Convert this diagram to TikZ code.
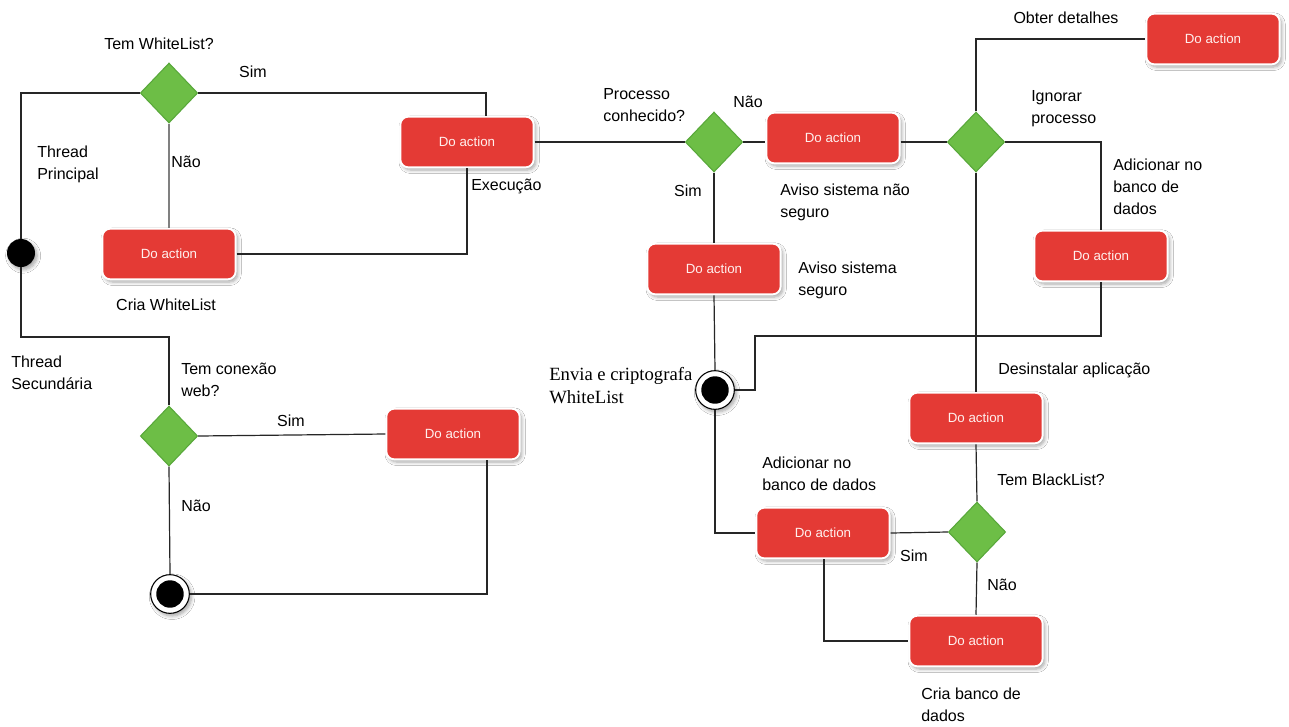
\documentclass[tikz,border=0pt]{standalone}
\usepackage{fontspec}
\setmainfont{Liberation Sans}
\newfontfamily\serifface{Liberation Serif}
\usetikzlibrary{shapes.geometric,calc,shadows.blur}

\definecolor{actred}{HTML}{E43A35}
\definecolor{decgreen}{HTML}{6DBE46}
\definecolor{decedge}{HTML}{58A83A}
\definecolor{wire}{HTML}{262626}
\definecolor{actfont}{HTML}{FFF0EE}

\tikzset{
  softshadow/.style={blur shadow={shadow xshift=1.6pt, shadow yshift=-2pt,
      shadow blur radius=2.6pt, shadow blur steps=6, shadow opacity=35}},
  actbox/.style={rectangle, rounded corners=6pt, fill=actred, draw=white,
      line width=1.4pt, minimum width=100pt, minimum height=38pt,
      inner sep=0pt, text=actfont, font=\fontsize{10}{12}\selectfont, softshadow},
  decision/.style={diamond, fill=decgreen, draw=decedge, line width=0.8pt,
      minimum width=43pt, minimum height=45pt, inner sep=0pt},
  startdot/.style={circle, fill=black, minimum size=21pt, inner sep=0pt, softshadow},
  enddot/.style={circle, fill=white, draw=black, line width=0.8pt,
      minimum size=29pt, inner sep=0pt, softshadow,
      path picture={\fill[black] (path picture bounding box.center) circle (10.3pt);}},
  wirestyle/.style={draw=wire, line width=0.9pt},
  lbl/.style={inner sep=0pt, align=left, text=black,
      font=\fontsize{12}{16.5}\selectfont},
  serif lbl/.style={inner sep=0pt, align=left, text=black,
      font=\serifface\fontsize{14}{17.3}\selectfont}
}

\begin{document}
\begin{tikzpicture}[x=0.75pt, y=-0.75pt]
  \useasboundingbox[fill=white] (0,0) rectangle (1289,726);

  % ---- initial node and decisions
  \node[startdot] (S) at (21,253) {};
  \node[decision] (D1) at (169,93) {};
  \node[decision] (D2) at (169,436) {};
  \node[decision] (D3) at (714,142) {};
  \node[decision] (D4) at (976,142) {};
  \node[decision] (D5) at (977,532) {};

  % ---- activities
  \node[actbox] (B1) at (467,142) {Do action};
  \node[actbox] (B2) at (169,254) {Do action};
  \node[actbox] (B3) at (453,434) {Do action};
  \node[actbox] (B4) at (833,138) {Do action};
  \node[actbox] (B5) at (714,269) {Do action};
  \node[actbox] (B6) at (1213,39) {Do action};
  \node[actbox] (B7) at (1101,256) {Do action};
  \node[actbox] (B8) at (976,418) {Do action};
  \node[actbox] (B9) at (823,533) {Do action};
  \node[actbox] (B10) at (976,641) {Do action};

  % ---- final nodes
  \node[enddot] (E1) at (170,594) {};
  \node[enddot] (E2) at (715,390) {};

  % ---- bend points
  \coordinate (j1) at (169,337);
  \coordinate (j2) at (755,336);

  % ---- connectors
  \begin{scope}[on background layer/.style={}]
  \draw[wirestyle] (S.north) |- (D1.west);
  \draw[wirestyle] (D1.east) -| ($(B1.north)+(19,0)$);
  \draw[wirestyle, draw=gray] (D1.south) -- (B2.north);
  \draw[wirestyle] (B2.east) -| (B1.south);
  \draw[wirestyle] (S.south) |- (j1) -- (D2.north);
  \draw[wirestyle] (D2.east) -- (B3.west);
  \draw[wirestyle] (D2.south) -- (E1.north);
  \draw[wirestyle] (E1.east) -| ($(B3.south)+(34,0)$);
  \draw[wirestyle] (B1.east) -- (D3.west);
  \draw[wirestyle] (D3.east) -- (D3.east -| B4.west);
  \draw[wirestyle] (D3.south) -- (B5.north);
  \draw[wirestyle] (B5.south) -- (E2.north);
  \draw[wirestyle] (B4.east |- D4.west) -- (D4.west);
  \draw[wirestyle] (D4.north) |- (B6.west);
  \draw[wirestyle] (D4.east) -| (B7.north);
  \draw[wirestyle] (D4.south) -- (B8.north);
  \draw[wirestyle] (B7.south) |- (j2) |- (E2.east);
  \draw[wirestyle] (E2.south) |- (B9.west);
  \draw[wirestyle] (B8.south) -- (D5.north);
  \draw[wirestyle] (D5.west) -- (B9.east);
  \draw[wirestyle] (D5.south) -- (B10.north);
  \draw[wirestyle] ($(B9.south)+(1,0)$) |- (B10.west);
  \end{scope}

  % ---- labels
  \node[lbl] (t1) at (159,44) {Tem WhiteList?};
  \node[lbl] (t2) at (253,72) {Sim};
  \node[lbl, anchor=west] (t3) at (37,164) {Thread\\Principal};
  \node[lbl] (t4) at (186,162) {Não};
  \node[lbl, anchor=west] (t5) at (471,186) {Execução};
  \node[lbl] (t6) at (166,305) {Cria WhiteList};
  \node[lbl, anchor=west] (t7) at (11,373) {Thread\\Secundária};
  \node[lbl, anchor=west] (t8) at (181,380) {Tem conexão\\web?};
  \node[lbl] (t9) at (291,421) {Sim};
  \node[lbl] (t10) at (196,506) {Não};
  \node[lbl, anchor=west] (t11) at (603,105) {Processo\\conhecido?};
  \node[lbl] (t12) at (748,102) {Não};
  \node[lbl] (t13) at (688,191) {Sim};
  \node[lbl, anchor=west] (t14) at (780,202) {Aviso sistema não\\seguro};
  \node[lbl, anchor=west] (t15) at (798,280) {Aviso sistema\\seguro};
  \node[serif lbl, anchor=west] (t16) at (549,386) {Envia e criptografa\\WhiteList};
  \node[lbl] (t17) at (1066,18) {Obter detalhes};
  \node[lbl, anchor=west] (t18) at (1031,109) {Ignorar\\processo};
  \node[lbl, anchor=west] (t19) at (1113,187) {Adicionar no\\banco de\\dados};
  \node[lbl, anchor=west] (t20) at (998,370) {Desinstalar aplicação};
  \node[lbl, anchor=west] (t21) at (997,480) {Tem BlackList?};
  \node[lbl, anchor=west] (t22) at (762,474) {Adicionar no\\banco de dados};
  \node[lbl] (t23) at (914,556) {Sim};
  \node[lbl] (t24) at (1002,585) {Não};
  \node[lbl, anchor=west] (t25) at (921,705) {Cria banco de\\dados};
\end{tikzpicture}
\end{document}
